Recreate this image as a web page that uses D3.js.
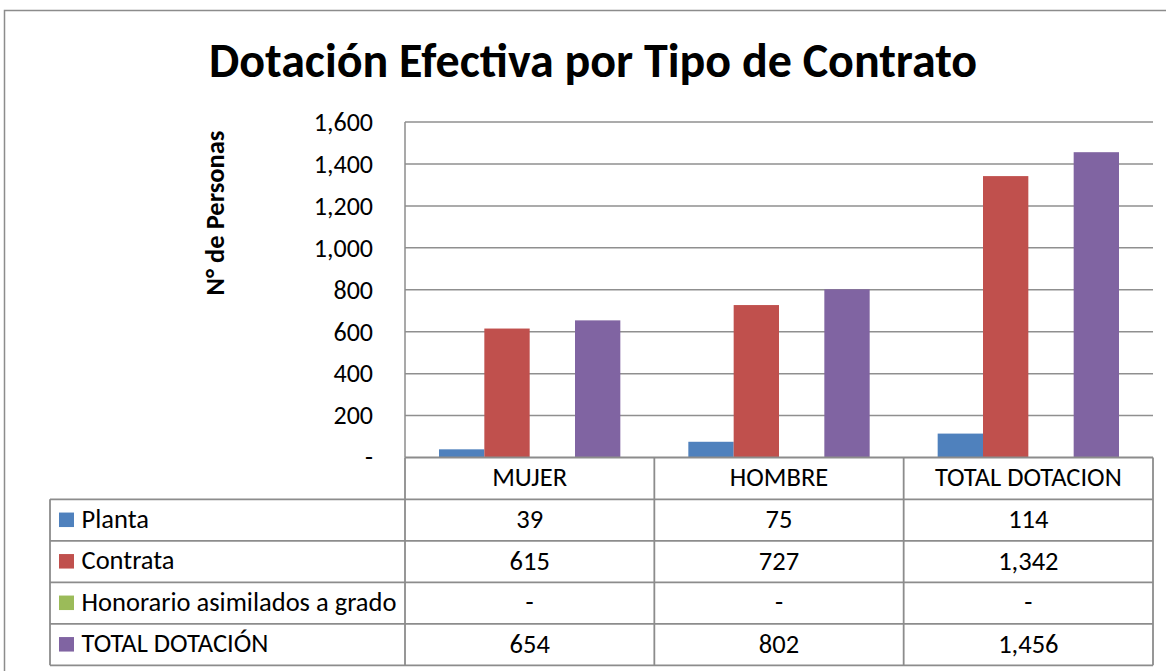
<!DOCTYPE html>
<html><head><meta charset="utf-8">
<script src="https://cdn.jsdelivr.net/npm/d3@7"></script>
<style>body{margin:0;background:#fff}svg{display:block}text{font-family:Carlito,Calibri,Lato,sans-serif;fill:#000}</style>
</head><body>
<svg id="c" width="1166" height="671"></svg>
<script>
const categories = ["MUJER","HOMBRE","TOTAL DOTACION"];
const seriesNames = ["Planta","Contrata","Honorario asimilados a grado","TOTAL DOTACIÓN"];
const planta = [39,75,114];
const contrata = [615,727,1342];
const honorario = [0,0,0];
const totalDotacion = [654,802,1456];
const yTicks = [0,200,400,600,800,1000,1200,1400,1600];
const colors = ["#4F81BD","#C0504D","#9BBB59","#8064A2"];
const titleText = "Dotación Efectiva por Tipo de Contrato";
const yTitle = "N° de Personas";

const series = [planta, contrata, honorario, totalDotacion];
const fmt = v => v === 0 ? "-" : d3.format(",")(v);

const svg = d3.select("#c");
const L = 405, R = 1153, T = 122, B = 457.5;
const FS = "26.5px";
const x = d3.scaleBand().domain(categories).range([L,R]);
const xi = d3.scaleBand().domain(seriesNames).range([0,x.bandwidth()]).paddingOuter(0.75);
const y = d3.scaleLinear().domain([0,1600]).range([B,T]);

// outer frame
svg.append("rect").attr("x",4.5).attr("y",10.5).attr("width",1170).attr("height",670)
  .attr("fill","none").attr("stroke","#8c8c8c").attr("stroke-width",1.5);

svg.append("text").attr("x",593).attr("y",77).attr("text-anchor","middle")
  .style("font-size","48px").style("font-weight","bold").text(titleText);

// gridlines
svg.append("g").selectAll("line").data(yTicks.filter(d=>d>0)).join("line")
  .attr("x1",L).attr("x2",R).attr("y1",d=>y(d)).attr("y2",d=>y(d))
  .attr("stroke","#8f8f8f").attr("stroke-width",1.5);

// y axis
const yAxis = d3.axisLeft(y).tickValues(yTicks).tickFormat(fmt).tickSize(0).tickPadding(32);
const ga = svg.append("g").attr("transform",`translate(${L},0)`).call(yAxis);
ga.select(".domain").remove();
ga.selectAll("text").style("font-size","26px").style("font-family","Carlito,Calibri,Lato,sans-serif").attr("fill","#000");
svg.append("line").attr("x1",L).attr("x2",L).attr("y1",T).attr("y2",B).attr("stroke","#8c8c8c").attr("stroke-width",1.5);

svg.append("text").attr("transform","translate(224,213) rotate(-90)").attr("text-anchor","middle")
  .style("font-size","26.5px").style("font-weight","bold").text(yTitle);

// bars
seriesNames.forEach((s,si)=>{
  svg.append("g").selectAll("rect").data(series[si]).join("rect")
    .attr("x",(d,i)=>x(categories[i])+xi(s))
    .attr("width",xi.bandwidth())
    .attr("y",d=>y(d)).attr("height",d=>B-y(d))
    .attr("fill",colors[si]);
});

// table
const rowH = 41.5;
const hdrBot = 499.3;
const rowsTop = hdrBot;
const tableBot = rowsTop + rowH*4;
const LX = 50;
const tg = svg.append("g");
function line(x1,y1,x2,y2){tg.append("line").attr("x1",x1).attr("y1",y1).attr("x2",x2).attr("y2",y2).attr("stroke","#8c8c8c").attr("stroke-width",1.8);}
line(L,B,R,B);
line(LX,hdrBot,R,hdrBot);
for(let r=1;r<=4;r++) line(LX,rowsTop+rowH*r,R,rowsTop+rowH*r);
line(L,B,L,tableBot);
line(LX,hdrBot,LX,tableBot);
categories.forEach(c=>line(x(c)+x.bandwidth(),B,x(c)+x.bandwidth(),tableBot));

tg.selectAll("text.h").data(categories).join("text").attr("class","h")
  .attr("x",d=>x(d)+x.bandwidth()/2).attr("y",(B+hdrBot)/2+8).attr("text-anchor","middle")
  .style("font-size",FS).text(d=>d);

seriesNames.forEach((s,si)=>{
  const cy = rowsTop + rowH*si + rowH/2;
  tg.append("rect").attr("x",59).attr("y",cy-7.5).attr("width",15).attr("height",14.5).attr("fill",colors[si]);
  tg.append("text").attr("x",81.5).attr("y",cy+7.5).style("font-size",FS).text(s);
  tg.append("g").selectAll("text").data(series[si]).join("text")
    .attr("x",(d,i)=>x(categories[i])+x.bandwidth()/2).attr("y",cy+8).attr("text-anchor","middle")
    .style("font-size",FS).text(d=>fmt(d));
});
</script>
</body></html>
